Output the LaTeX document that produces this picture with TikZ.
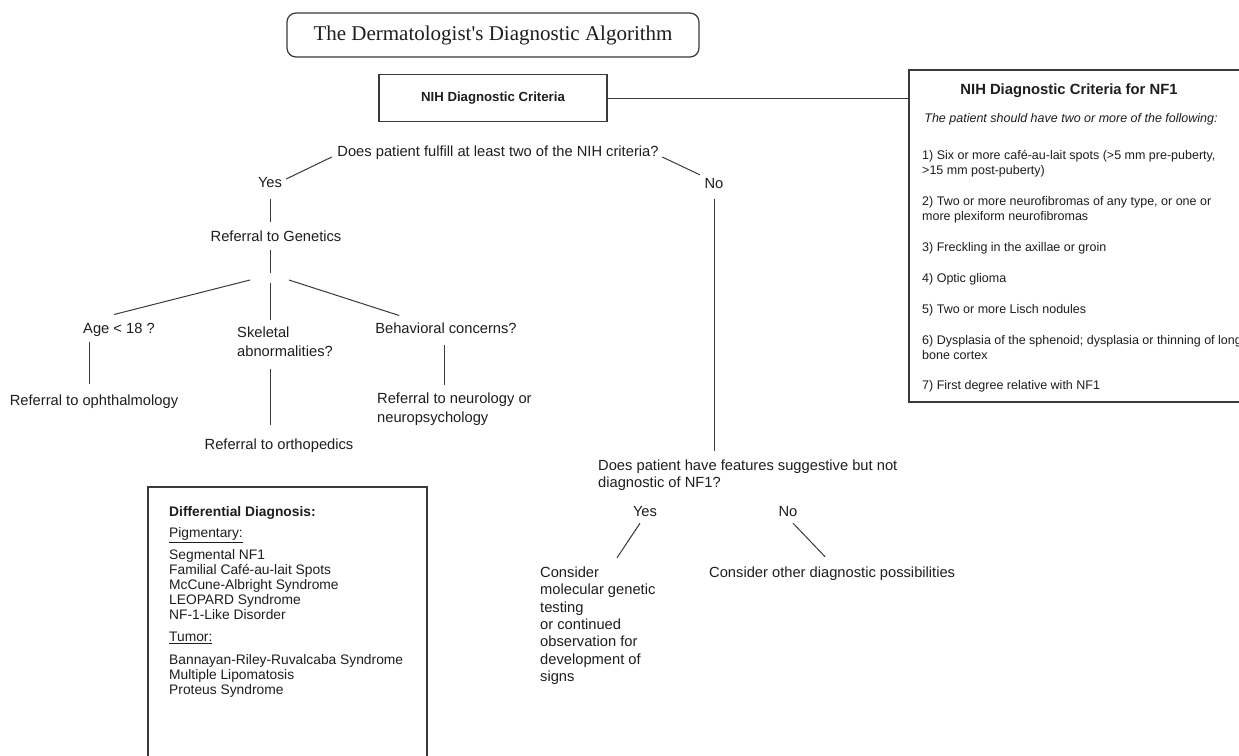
\documentclass[tikz,border=0pt]{standalone}
\usepackage{fontspec}
\setmainfont{Liberation Sans}
\newfontfamily\titlefont{Liberation Serif}
\usetikzlibrary{calc}
\definecolor{ink}{HTML}{1E1E1E}
\definecolor{edge}{HTML}{3A3A3A}
\tikzset{
  tx/.style={inner sep=0pt, text height=10.6pt, text depth=0pt, text=ink, font=\fontsize{14.7}{17}\selectfont},
  ts/.style={inner sep=0pt, text height=9pt, text depth=0pt, text=ink, font=\fontsize{12.5}{15}\selectfont},
  td/.style={inner sep=0pt, text height=9.9pt, text depth=0pt, text=ink, font=\fontsize{13.8}{15}\selectfont},
  ln/.style={draw=edge, line width=1pt},
  box/.style={draw=edge, line width=1.2pt, inner sep=0pt, text=ink},
  titlebox/.style={box, rounded corners=9pt, minimum width=412pt, minimum height=44pt, font=\titlefont\fontsize{21}{24}\selectfont},
}
\begin{document}
\begin{tikzpicture}[x=1pt,y=-1pt]
\path[use as bounding box] (0,0) rectangle (1239,755);
\clip (0,0) rectangle (1239,755);
\fill[white] (0,0) rectangle (1239,755);

% title and top boxes
\node[titlebox] (title) at (493,35) {The Dermatologist's Diagnostic Algorithm};
\node[box, minimum width=228pt, minimum height=47pt, font=\bfseries\fontsize{13.2}{15}\selectfont] (nih) at (493,98) {NIH Diagnostic Criteria};
\node[box, minimum width=341pt, minimum height=332pt] (crit) at (1079.5,236) {};
\draw[ln] (nih.east) -- (nih.east -| crit.west);

% criteria text
\node[tx, text height=10.7pt, font=\bfseries\fontsize{14.8}{17}\selectfont] (ch) at (1069,89) {NIH Diagnostic Criteria for NF1};
\node[ts, font=\itshape\fontsize{12.5}{15}\selectfont] (ci) at (1071,118) {The patient should have two or more of the following:};
\node[ts, anchor=west] (c1a) at (922,155) {1) Six or more café-au-lait spots (>5 mm pre-puberty,};
\node[ts, anchor=west] (c1b) at (922,170) {>15 mm post-puberty)};
\node[ts, anchor=west] (c2a) at (922,201) {2) Two or more neurofibromas of any type, or one or};
\node[ts, anchor=west] (c2b) at (922,216) {more plexiform neurofibromas};
\node[ts, anchor=west] (c3) at (922,247) {3) Freckling in the axillae or groin};
\node[ts, anchor=west] (c4) at (922,278) {4) Optic glioma};
\node[ts, anchor=west] (c5) at (922,309) {5) Two or more Lisch nodules};
\node[ts, anchor=west] (c6a) at (922,340) {6) Dysplasia of the sphenoid; dysplasia or thinning of long};
\node[ts, anchor=west] (c6b) at (922,355) {bone cortex};
\node[ts, anchor=west] (c7) at (922,385) {7) First degree relative with NF1};

% first question
\node[tx] (q1) at (498,151) {Does patient fulfill at least two of the NIH criteria?};
\node[tx] (yes) at (270,182) {Yes};
\node[tx] (no) at (714,183) {No};
\draw[ln] ($(q1.west)+(-5.5,6)$) -- ($(yes.east)+(4,-3)$);
\draw[ln] ($(q1.east)+(3.5,6)$) -- ($(no.north west)+(-4.6,-2.7)$);

% yes branch
\node[tx] (gen) at (276,236) {Referral to Genetics};
\coordinate (hub) at (270,280);
\draw[ln] ($(yes.south)+(0,11.7)$) -- ($(gen.north -| yes.south)+(0,-8.7)$);
\draw[ln] ($(gen.south -| hub)+(0,8.7)$) -- ($(hub)+(0,-7)$);

\node[tx] (age) at (119,328) {Age < 18 ?};
\node[tx, anchor=west] (skel1) at (237,332) {Skeletal};
\node[tx, anchor=west] (skel2) at (237,351) {abnormalities?};
\node[tx] (beh) at (446,328) {Behavioral concerns?};
\draw[ln] ($(hub)+(-20,0)$) -- ($(age.north)+(-5,-8)$);
\draw[ln] ($(hub)+(0,3)$) -- ($(hub)+(0,40)$);
\draw[ln] ($(hub)+(19,0)$) -- ($(beh.north west)+(24,-7)$);

\node[tx] (oph) at (94,400) {Referral to ophthalmology};
\node[tx] (orth) at (279,444) {Referral to orthopedics};
\node[tx, anchor=west] (neu1) at (377,398) {Referral to neurology or};
\node[tx, anchor=west] (neu2) at (377,417) {neuropsychology};
\draw[ln] ($(age.south)+(-30,8)$) -- ($(oph.north)+(-5,-11)$);
\draw[ln] ($(skel2.south west)+(33,12.7)$) -- ($(orth.north)+(-9,-13.7)$);
\draw[ln] ($(beh.south)+(-2,11)$) -- ($(neu1.north -| beh.south)+(-2,-8)$);

% differential diagnosis box
\node[box, minimum width=279pt, minimum height=280pt] (diff) at (287.5,627) {};
\node[td, anchor=west, font=\bfseries\fontsize{13.8}{15}\selectfont] (dd0) at (169,512) {Differential Diagnosis:};
\node[td, anchor=west] (dp) at (169,533) {\underline{Pigmentary:}};
\node[td, anchor=west] (dp1) at (169,555) {Segmental NF1};
\node[td, anchor=west] (dp2) at (169,570) {Familial Café-au-lait Spots};
\node[td, anchor=west] (dp3) at (169,585) {McCune-Albright Syndrome};
\node[td, anchor=west] (dp4) at (169,600) {LEOPARD Syndrome};
\node[td, anchor=west] (dp5) at (169,615) {NF-1-Like Disorder};
\node[td, anchor=west] (dt) at (169,637) {\underline{Tumor:}};
\node[td, anchor=west] (dt1) at (169,660) {Bannayan-Riley-Ruvalcaba Syndrome};
\node[td, anchor=west] (dt2) at (169,675) {Multiple Lipomatosis};
\node[td, anchor=west] (dt3) at (169,690) {Proteus Syndrome};

% no branch
\node[tx, anchor=west] (q2a) at (598,465) {Does patient have features suggestive but not};
\node[tx, anchor=west] (q2b) at (598,482) {diagnostic of NF1?};
\draw[ln] ($(no.south)+(0,10)$) -- ($(no.south |- q2a.north)+(0,-9)$);
\node[tx] (yes2) at (645,511) {Yes};
\node[tx] (no2) at (788,511) {No};
\node[tx, anchor=west] (con1) at (540,572) {Consider};
\node[tx, anchor=west] (con2) at (540,589.4) {molecular genetic};
\node[tx, anchor=west] (con3) at (540,606.8) {testing};
\node[tx, anchor=west] (con4) at (540,624.2) {or continued};
\node[tx, anchor=west] (con5) at (540,641.6) {observation for};
\node[tx, anchor=west] (con6) at (540,659) {development of};
\node[tx, anchor=west] (con7) at (540,676.4) {signs};
\node[tx, anchor=west] (other) at (709,572) {Consider other diagnostic possibilities};
\draw[ln] ($(yes2.south)+(-5,6.7)$) -- ($(con1.north west)+(77,-8.7)$);
\draw[ln] ($(no2.south)+(5,6.7)$) -- ($(other.north)+(-7,-9.7)$);
\end{tikzpicture}
\end{document}
